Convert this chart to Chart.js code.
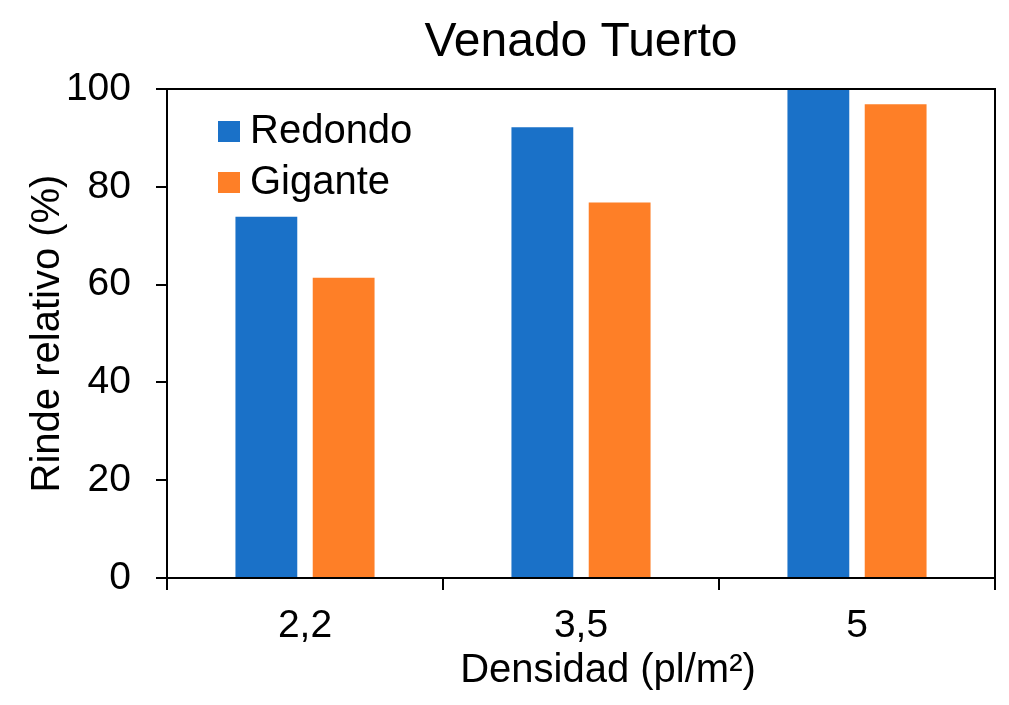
<!DOCTYPE html>
<html>
<head>
<meta charset="utf-8">
<script src="https://cdn.jsdelivr.net/npm/chart.js@4"></script>
<style>
  html, body { margin: 0; padding: 0; background: #fff; }
  #chart { display: block; }
</style>
</head>
<body>
<canvas id="chart" width="1009" height="705"></canvas>
<script>
// ==== data ====
const densities = ['2,2', '3,5', '5'];
const redondo = [73.9, 92.2, 100];
const gigante = [61.4, 76.8, 96.9];
const yTicks = [0, 20, 40, 60, 80, 100];
const xTitle = 'Densidad (pl/m²)';

const FONT = "'Liberation Sans', Arial, sans-serif";
const BLUE = '#1a71c8';
const ORANGE = '#fe7f27';

// frame on top + right, legend inside plot, x title (sits a bit right of centre in the original)
const framePlugin = {
  id: 'frame',
  afterDraw(chart) {
    const { ctx, chartArea: a } = chart;
    ctx.save();
    ctx.strokeStyle = '#000';
    ctx.lineWidth = 2;
    ctx.beginPath();
    ctx.moveTo(a.left, a.top);
    ctx.lineTo(a.right, a.top);
    ctx.lineTo(a.right, a.bottom);
    ctx.stroke();

    // legend
    ctx.font = '40px ' + FONT;
    ctx.textBaseline = 'middle';
    ctx.textAlign = 'left';
    chart.data.datasets.forEach((ds, i) => {
      const y = a.top + 32 + i * 51;
      ctx.fillStyle = ds.backgroundColor;
      ctx.fillRect(a.left + 51, y, 22, 21);
      ctx.fillStyle = '#000';
      ctx.fillText(ds.label, a.left + 83, y + 11);
    });

    // x axis title
    ctx.textAlign = 'center';
    ctx.textBaseline = 'alphabetic';
    ctx.fillText(xTitle, (a.left + a.right) / 2 + 27, 682);
    ctx.restore();
  }
};

new Chart(document.getElementById('chart'), {
  type: 'bar',
  data: {
    labels: densities,
    datasets: [
      { label: 'Redondo', data: redondo, backgroundColor: BLUE },
      { label: 'Gigante', data: gigante, backgroundColor: ORANGE }
    ]
  },
  options: {
    responsive: false,
    animation: false,
    devicePixelRatio: 1,
    layout: { padding: { left: 0, right: 14, top: 0, bottom: 0 } },
    datasets: { bar: { categoryPercentage: 0.56, barPercentage: 0.8 } },
    plugins: {
      legend: { display: false },
      tooltip: { enabled: false },
      title: {
        display: true,
        fullSize: false,
        text: 'Venado Tuerto',
        color: '#000',
        font: { family: FONT, size: 48, weight: 'normal' },
        padding: { top: 14, bottom: 17.4 }
      }
    },
    scales: {
      x: {
        grid: { display: true, drawOnChartArea: false, drawTicks: true, tickLength: 12, color: '#000', lineWidth: 2, offset: true },
        border: { display: true, color: '#000', width: 2 },
        ticks: { color: '#000', font: { family: FONT, size: 39 }, padding: 13 },
        afterFit(scale) { scale.height = 127; }
      },
      y: {
        min: 0,
        max: 100,
        afterBuildTicks(scale) { scale.ticks = yTicks.map(v => ({ value: v })); },
        grid: { display: true, drawOnChartArea: false, drawTicks: true, tickLength: 11, color: '#000', lineWidth: 2 },
        border: { display: true, color: '#000', width: 2 },
        ticks: { color: '#000', font: { family: FONT, size: 39 }, padding: 25 },
        title: {
          display: true,
          text: 'Rinde relativo (%)',
          color: '#000',
          font: { family: FONT, size: 40 },
          padding: { top: 24, bottom: 0 }
        },
        afterFit(scale) { scale.width = 167; }
      }
    }
  },
  plugins: [framePlugin]
});
</script>
</body>
</html>
